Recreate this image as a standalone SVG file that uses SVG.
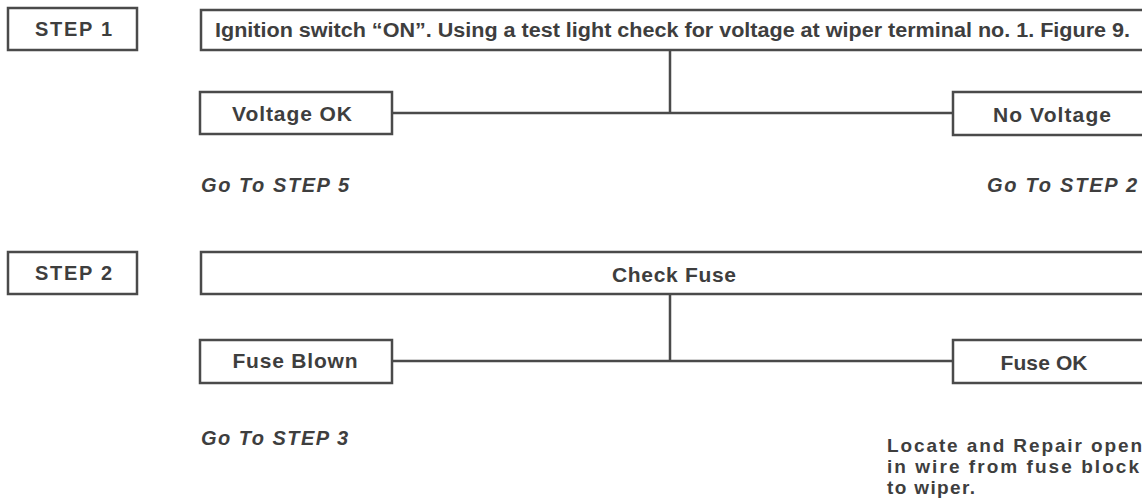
<svg xmlns="http://www.w3.org/2000/svg" width="1142" height="502" viewBox="0 0 1142 502">
<style>
.box{fill:#fff;stroke:#4a4a4a;stroke-width:2.5}
.ln{fill:none;stroke:#4a4a4a;stroke-width:2.5}
text{font-family:"Liberation Sans",Arial,sans-serif;fill:#3e3e3e;font-weight:bold}
.step{font-size:20px}
.lbl{font-size:21px;text-anchor:middle}
.go{font-size:20px;font-style:italic}
.note{font-size:19px}
</style>
<rect width="1142" height="502" fill="#fff"/>
<g id="connectors">
<path class="ln" d="M670 50V113M392 113H953"/>
<path class="ln" d="M670 294V361M392 361H953"/>
</g>
<g id="step1">
<rect class="box" x="8" y="8" width="129" height="42"/>
<text class="step" x="35" y="36" textLength="77">STEP 1</text>
</g>
<g id="q1">
<rect class="box" x="201" y="10" width="945" height="40"/>
<text x="215" y="37" font-size="20" textLength="915" lengthAdjust="spacingAndGlyphs">Ignition switch “ON”. Using a test light check for voltage at wiper terminal no. 1. Figure 9.</text>
</g>
<g id="voltageok">
<rect class="box" x="200" y="92" width="192" height="42"/>
<text class="lbl" x="292" y="121" textLength="120">Voltage OK</text>
</g>
<g id="novoltage">
<rect class="box" x="953" y="92" width="193" height="43"/>
<text class="lbl" x="1052" y="122" textLength="118">No Voltage</text>
</g>
<g id="goto5"><text class="go" x="201" y="192" textLength="148">Go To STEP 5</text></g>
<g id="goto2"><text class="go" x="987" y="192" textLength="150">Go To STEP 2</text></g>
<g id="step2">
<rect class="box" x="8" y="252" width="129" height="42"/>
<text class="step" x="35" y="280" textLength="77">STEP 2</text>
</g>
<g id="q2">
<rect class="box" x="201" y="252" width="945" height="42"/>
<text class="lbl" x="674" y="282" textLength="124">Check Fuse</text>
</g>
<g id="fuseblown">
<rect class="box" x="200" y="340" width="192" height="43"/>
<text class="lbl" x="295" y="368" textLength="125">Fuse Blown</text>
</g>
<g id="fuseok">
<rect class="box" x="953" y="340" width="193" height="43"/>
<text class="lbl" x="1044" y="370" textLength="87">Fuse OK</text>
</g>
<g id="goto3"><text class="go" x="201" y="445" textLength="147">Go To STEP 3</text></g>
<g id="repair">
<text class="note" x="887" y="452" textLength="255">Locate and Repair open</text>
<text class="note" x="887" y="473" textLength="252">in wire from fuse block</text>
<text class="note" x="887" y="494" textLength="88">to wiper.</text>
</g>
</svg>
